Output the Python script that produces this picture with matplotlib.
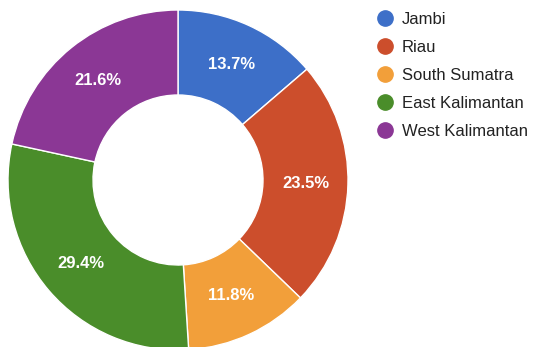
import matplotlib.pyplot as plt
from matplotlib.lines import Line2D

plt.rcParams['font.family'] = ['Liberation Sans', 'DejaVu Sans']

# data
provinces = ['Jambi', 'Riau', 'South Sumatra', 'East Kalimantan', 'West Kalimantan']
shares = [13.7, 23.5, 11.8, 29.4, 21.6]
colors = ['#3d6fc8', '#cc4e2c', '#f29f3a', '#4a8d2a', '#8b3795']

fig = plt.figure(figsize=(5.39, 3.47), dpi=100)

# donut axes: centre at (178, 180) px from top-left, radius 170 px
W, H = 539, 347
ax = fig.add_axes([8 / W, (H - 350) / H, 340 / W, 340 / H])
wedges, texts, autotexts = ax.pie(
    shares, colors=colors, startangle=90, counterclock=False,
    autopct='%1.1f%%', pctdistance=0.75, radius=1,
    wedgeprops=dict(width=0.5, edgecolor='white', linewidth=1),
    textprops=dict(color='white', fontsize=12, fontweight='bold'))
ax.set_xlim(-1, 1)
ax.set_ylim(-1, 1)
ax.set_aspect('equal')
ax.axis('off')

# legend
handles = [Line2D([], [], linestyle='none', marker='o', markersize=11,
                  markerfacecolor=c, markeredgecolor=c) for c in colors]
leg = fig.legend(handles, provinces, loc='upper left',
                 bbox_to_anchor=(377 / W, 1 - 12 / H), frameon=False,
                 fontsize=12, labelspacing=0.78, handletextpad=0.5,
                 handlelength=1.0, borderaxespad=0, borderpad=0)
for t in leg.get_texts():
    t.set_color('#222222')

fig.savefig('out.png', dpi=100)
